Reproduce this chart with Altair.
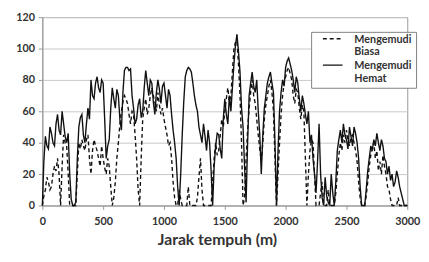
import altair as alt
import pandas as pd

# distance grid (m), 12.5 m steps
distance = [i * 12.5 for i in range(241)]

# Mengemudi Hemat (solid) speed, km/h — one row per 200 m
hemat = [
    0, 28, 44, 38, 36, 50, 46, 40, 38, 52, 58, 48, 45, 60, 52, 44,
    40, 46, 20, 4, 0, 0, 2, 30, 50, 56, 58, 45, 40, 52, 62, 55,
    80, 70, 68, 78, 82, 75, 72, 80, 78, 55, 30, 38, 42, 62, 75, 68,
    62, 74, 70, 55, 48, 72, 86, 88, 88, 86, 87, 70, 62, 52, 55, 64,
    68, 56, 60, 75, 86, 78, 70, 80, 78, 66, 58, 72, 80, 74, 65, 76,
    78, 70, 62, 74, 70, 58, 48, 40, 30, 12, 0, 20, 45, 66, 82, 86,
    88, 87, 85, 78, 70, 64, 60, 50, 45, 40, 52, 44, 35, 48, 40, 22,
    0, 25, 38, 46, 45, 36, 30, 55, 68, 58, 52, 70, 60, 75, 90, 102,
    109, 98, 85, 62, 50, 25, 2, 40, 70, 78, 85, 76, 72, 80, 60, 45,
    20, 45, 62, 70, 78, 82, 85, 78, 72, 40, 0, 35, 60, 72, 80, 76,
    88, 92, 94, 90, 86, 80, 72, 82, 78, 68, 60, 70, 65, 58, 52, 60,
    40, 45, 30, 20, 8, 28, 52, 20, 5, 0, 18, 6, 2, 0, 20, 8,
    0, 15, 35, 42, 48, 40, 52, 45, 42, 36, 50, 44, 38, 50, 46, 40,
    30, 12, 0, 0, 0, 10, 22, 30, 38, 35, 42, 38, 46, 40, 35, 42,
    38, 30, 28, 20, 25, 16, 20, 12, 15, 22, 18, 12, 8, 4, 0, 0,
    0,
]

# Mengemudi Biasa (dashed) speed, km/h — one row per 200 m
biasa = [
    0, 6, 10, 18, 15, 10, 12, 20, 25, 22, 30, 20, 0, 25, 45, 40,
    38, 20, 0, 0, 0, 0, 0, 20, 40, 36, 42, 38, 35, 42, 45, 30,
    20, 35, 42, 38, 35, 30, 25, 38, 30, 24, 20, 30, 25, 12, 0, 5,
    15, 30, 40, 52, 60, 66, 70, 68, 65, 58, 52, 60, 58, 45, 30, 10,
    0, 30, 55, 62, 68, 58, 62, 70, 75, 70, 66, 60, 72, 64, 58, 62,
    55, 50, 45, 38, 40, 30, 15, 5, 0, 0, 10, 4, 0, 0, 0, 0,
    12, 0, 0, 0, 0, 0, 5, 18, 30, 10, 0, 0, 0, 0, 0, 0,
    15, 30, 40, 32, 35, 45, 55, 50, 60, 68, 75, 66, 70, 85, 100, 104,
    105, 90, 70, 40, 0, 5, 30, 48, 62, 72, 80, 70, 65, 55, 45, 36,
    28, 40, 55, 64, 70, 76, 80, 72, 60, 30, 0, 20, 40, 58, 70, 78,
    82, 86, 88, 84, 80, 70, 65, 74, 72, 62, 55, 64, 60, 30, 0, 20,
    35, 42, 40, 20, 0, 0, 0, 8, 15, 0, 0, 0, 10, 0, 0, 0,
    0, 8, 20, 32, 40, 35, 45, 40, 48, 42, 38, 44, 45, 40, 35, 28,
    15, 5, 0, 0, 0, 6, 15, 25, 32, 36, 40, 30, 35, 22, 28, 20,
    32, 25, 20, 12, 10, 4, 0, 0, 0, 0, 5, 0, 0, 0, 0, 0,
    0,
]

series_names = ["Mengemudi Biasa", "Mengemudi Hemat"]
x_ticks = [0, 500, 1000, 1500, 2000, 2500, 3000]
y_ticks = [0, 20, 40, 60, 80, 100, 120]

rows = []
for d, v in zip(distance, biasa):
    rows.append({"Jarak": d, "Kecepatan": v, "Mode": series_names[0]})
for d, v in zip(distance, hemat):
    rows.append({"Jarak": d, "Kecepatan": v, "Mode": series_names[1]})
df = pd.DataFrame(rows)

FONT = "Lato"

chart = alt.Chart(df).mark_line(strokeWidth=1.4, color="#111111").encode(
    x=alt.X(
        "Jarak:Q",
        scale=alt.Scale(domain=[0, 3000], nice=False, zero=False),
        axis=alt.Axis(
            values=x_ticks, format="d", title="Jarak tempuh (m)", grid=False,
            labelFont=FONT, labelFontSize=11, labelFontWeight="bold", labelColor="#333333",
            titleFont=FONT, titleFontSize=16, titleFontWeight="bold", titleColor="#333333",
            titlePadding=6, labelPadding=6, tickSize=4, tickColor="#999999",
            domainColor="#999999", labelFlush=False, titleX=178, titleAlign="center",
        ),
    ),
    y=alt.Y(
        "Kecepatan:Q",
        scale=alt.Scale(domain=[0, 120], nice=False),
        axis=alt.Axis(
            values=y_ticks, title=None, grid=True, gridColor="#c8c8c8", gridWidth=1,
            labelFont=FONT, labelFontSize=11, labelFontWeight="bold", labelColor="#333333",
            labelPadding=4, tickSize=4, tickColor="#999999", domainColor="#999999",
        ),
    ),
    strokeDash=alt.StrokeDash(
        "Mode:N",
        scale=alt.Scale(domain=series_names, range=[[4, 3], [1, 0]]),
        legend=alt.Legend(
            title=None, orient="none", legendX=274, legendY=15,
            symbolType="M-1.67,-0.67H1.67", symbolSize=144,
            symbolStrokeColor="#111111", symbolStrokeWidth=1.4,
            symbolFillColor="transparent", symbolOffset=11,
            labelFont=FONT, labelFontSize=11, labelFontWeight="bold",
            labelColor="#333333",
            labelExpr="[split(datum.label, ' ')[0] + '   ', split(datum.label, ' ')[1]]",
            labelBaseline="alphabetic", fillColor="white", strokeColor="#808080",
            padding=4, rowPadding=3, labelOffset=15,
        ),
    ),
).properties(
    width=372, height=192,
    padding={"left": 35, "top": 7, "right": 14, "bottom": 40},
    autosize=alt.AutoSizeParams(type="none"),
).configure_view(stroke="#999999", strokeWidth=1)

chart.save("out.html", embed_options={"renderer": "svg", "actions": False})
